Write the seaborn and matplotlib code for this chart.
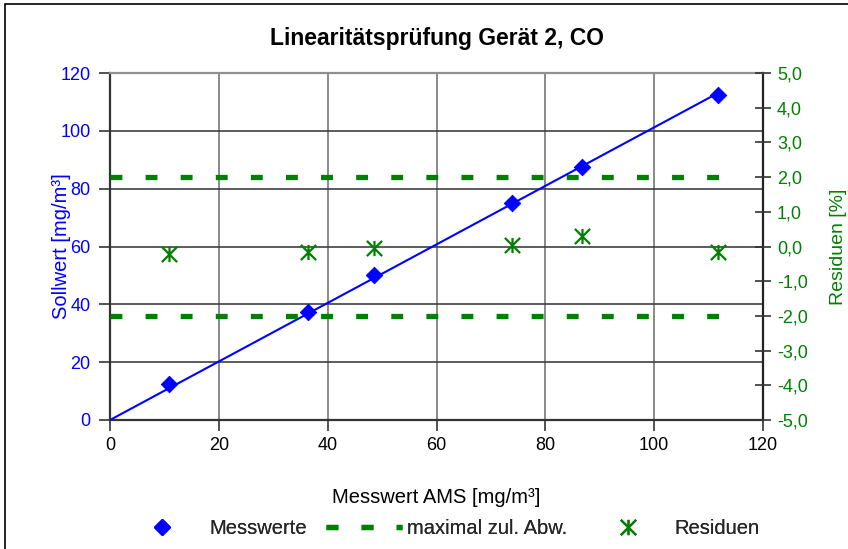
import numpy as np
import pandas as pd
import matplotlib
matplotlib.use("Agg")
import matplotlib.pyplot as plt
from matplotlib.lines import Line2D
from matplotlib.patches import Rectangle
from matplotlib.path import Path
from matplotlib.ticker import FuncFormatter
import seaborn as sns

# ---- data ----
messwert_ams = [10.8, 36.3, 48.6, 73.9, 86.8, 111.8]
sollwert = [12.5, 37.5, 50.0, 75.0, 87.5, 112.5]
residuen = [-0.22, -0.17, -0.05, 0.05, 0.29, -0.17]
grenze_x = [0, 113]
grenze_oben = [2.0, 2.0]
grenze_unten = [-2.0, -2.0]
x_ticks = [0, 20, 40, 60, 80, 100, 120]
y_ticks = [0, 20, 40, 60, 80, 100, 120]
r_ticks = [-5, -4, -3, -2, -1, 0, 1, 2, 3, 4, 5]

title = "Linearitätsprüfung Gerät 2, CO"
xlabel = "Messwert AMS [mg/m³]"
ylabel = "Sollwert [mg/m³]"
rlabel = "Residuen [%]"
legend_labels = ["Messwerte", "maximal zul. Abw.", "Residuen"]

sns.set_theme(style="white")
plt.rcParams['font.family'] = ['Liberation Sans', 'DejaVu Sans']

BLUE = "#0000FF"
GREEN = "#008000"
FS = 13
LFS = 14.5
DASH = [2.25, 4.4]

# asterisk marker: X plus vertical bar
ast_marker = Path([(-0.5, -0.5), (0.5, 0.5), (-0.5, 0.5), (0.5, -0.5), (0, -0.5), (0, 0.5)],
                  [Path.MOVETO, Path.LINETO, Path.MOVETO, Path.LINETO, Path.MOVETO, Path.LINETO])

fig = plt.figure(figsize=(8.48, 5.49), dpi=100)
fig.patch.set_facecolor("white")
fig.patches.append(Rectangle((5/848, -0.1), 1.2, 1 - 4/549 + 0.1, transform=fig.transFigure,
                             fill=False, edgecolor="black", linewidth=1.2))

ax = fig.add_axes([110/848, 129/549, 653/848, 347/549])
ax.set_xlim(0, 120)
ax.set_ylim(0, 120)

ax.set_xticks(x_ticks)
ax.set_yticks(y_ticks)
ax.grid(False)
for xv in x_ticks[1:-1]:
    ax.axvline(xv, color="#808080", linewidth=1.3, zorder=0.5)
for yv in y_ticks[1:-1]:
    ax.axhline(yv, color="#404040", linewidth=1.2, zorder=0.5)

# regression line through origin
xa = np.array(messwert_ams)
ya = np.array(sollwert)
slope = (xa * ya).sum() / (xa * xa).sum()
line_df = pd.DataFrame({"x": [0, xa.max()]})
line_df["y"] = slope * line_df["x"]
sns.lineplot(data=line_df, x="x", y="y", ax=ax, color=BLUE, linewidth=1.5, zorder=3, legend=False)

df = pd.DataFrame({"x": messwert_ams, "y": sollwert, "r": residuen})
sns.scatterplot(data=df, x="x", y="y", ax=ax, marker="D", s=70, color=BLUE,
                edgecolor=BLUE, zorder=4, legend=False)

for sp in ["left", "bottom"]:
    ax.spines[sp].set_color("#333333")
    ax.spines[sp].set_linewidth(1.6)
ax.spines["top"].set_color("#909090")
ax.spines["top"].set_linewidth(1.6)
ax.spines["right"].set_color("#222222")
ax.spines["right"].set_linewidth(1.6)

ax.tick_params(axis="both", which="both", direction="out", length=8, width=1.2,
               color="#333333", labelsize=FS)
ax.tick_params(axis="x", bottom=True, pad=4, labelcolor="black")
ax.tick_params(axis="y", left=True, pad=6, labelcolor=BLUE)

# right axis
ax2 = ax.twinx()
ax2.set_ylim(-5, 5)
ax2.set_yticks(r_ticks)
ax2.yaxis.set_major_formatter(FuncFormatter(lambda v, p: f"{v:.1f}".replace(".", ",")))
ax2.tick_params(axis="y", right=True, direction="inout", length=12, width=1.2,
                color="#333333", labelsize=FS, labelcolor=GREEN, pad=4)
for sp in ax2.spines.values():
    sp.set_visible(False)
ax2.grid(False)

lim_df = pd.DataFrame({"x": grenze_x, "o": grenze_oben, "u": grenze_unten})
for col in ["o", "u"]:
    sns.lineplot(data=lim_df, x="x", y=col, ax=ax2, color=GREEN, linewidth=3.8,
                 legend=False, zorder=2)
for l in ax2.get_lines():
    l.set_dashes(DASH)
    l.set_dash_capstyle("butt")

sns.scatterplot(data=df, x="x", y="r", ax=ax2, marker=ast_marker, s=120, color=GREEN,
                edgecolor=GREEN, linewidth=1.6, zorder=5, legend=False)
ax2.set_xlabel("")
ax2.set_ylabel(rlabel, fontsize=14, color=GREEN)
ax2.yaxis.set_label_coords((830 - 110) / 653, 0.5)

ax.set_xlabel(xlabel, fontsize=LFS, color="black")
ax.xaxis.set_label_coords(0.5, -(488 - 420) / 347)
ax.set_ylabel(ylabel, fontsize=LFS, color=BLUE)
ax.yaxis.set_label_coords((71 - 110) / 653, 0.5)

fig.text(437/848, 1 - 38/549, title, ha="center", va="center", fontsize=16.5,
         fontweight="bold", color="black")

# legend entries
h1 = Line2D([], [], marker="D", linestyle="none", color=BLUE, markersize=8)
h2 = Line2D([], [], color=GREEN, linewidth=3.8, dashes=DASH, dash_capstyle="butt")
h3 = Line2D([], [], marker=ast_marker, linestyle="none", color=GREEN, markersize=11,
            markeredgewidth=1.6)
positions = [(124, h1, legend_labels[0], 0.5), (326, h2, legend_labels[1], 0.25),
             (590, h3, legend_labels[2], 0.45)]
for px, h, lab, pad in positions:
    leg = fig.legend([h], [lab], loc="center left", bbox_to_anchor=(px/848, 1 - 529/549),
                     frameon=False, fontsize=LFS, handlelength=3.75, handletextpad=pad,
                     borderpad=0, borderaxespad=0)
    fig.add_artist(leg)

fig.savefig("out.png", dpi=100, facecolor="white")
